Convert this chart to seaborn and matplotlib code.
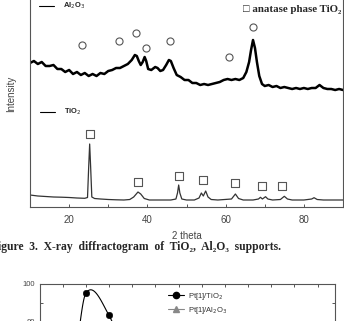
import numpy as np
import matplotlib
matplotlib.use("Agg")
import matplotlib.pyplot as plt
import seaborn as sns

# XRD traces (2 theta in degrees, intensity in arbitrary units)
al2o3_theta = [10, 11, 12, 13, 14, 15, 16, 17, 18, 19, 20, 21, 22, 23, 24, 25, 26, 27, 28, 29,
               30, 31, 32, 33, 34, 35, 36, 36.8, 37.3, 37.8, 38.3, 38.8, 39.3, 39.7, 40.2, 41,
               42, 42.6, 43.3, 44, 44.8, 45.5, 46, 46.7, 47.5, 48.5, 49.5, 50.5, 51.5, 52.5,
               53.5, 54.5, 55.5, 56.5, 57.5, 58.5, 59.5, 60.5, 61.5, 62.5, 63.5, 64.5, 65.3,
               66, 66.5, 67, 67.5, 68, 68.6, 69.3, 70, 71, 72, 73, 74, 75, 76, 77, 78, 79, 80,
               81, 82, 83, 84, 85, 86, 87, 88, 89, 90]
al2o3_int = [144, 146, 143, 145, 141, 141, 142, 138, 138, 135, 137, 133, 135, 132, 134, 131, 133,
             131, 134, 133, 136, 137, 139, 139, 141, 143, 147, 152, 151, 146, 142, 145, 150, 146,
             138, 137, 140, 139, 136, 137, 142, 147, 146, 139, 132, 130, 127, 127, 124, 124,
             122, 123, 122, 123, 124, 125, 127, 128, 127, 128, 127, 129, 135, 145, 157, 167,
             159, 145, 131, 123, 121, 122, 120, 121, 119, 120, 119, 118, 119, 118, 119, 118,
             119, 119, 122, 119, 118, 118, 117, 118, 117]

tio2_theta = [10, 12, 14, 16, 18, 20, 22, 24, 24.7, 25.0, 25.25, 25.5, 25.8, 26.5, 28, 30, 32,
              34, 35.5, 36.5, 37.6, 38.3, 39.2, 40.5, 44, 46, 47.3, 47.7, 48.0, 48.3, 48.8, 50,
              52, 53.2, 53.8, 54.3, 54.9, 55.5, 56.3, 58, 61.5, 62.5, 63.3, 64.5, 67, 68.4,
              68.9, 69.4, 70.2, 70.8, 72, 74, 75.0, 75.8, 77, 80, 82, 82.6, 83.4, 85, 90]
tio2_int = [12, 11, 10.5, 10, 9.8, 9.5, 9, 8.7, 9.5, 40, 63, 40, 10, 8.5, 8, 7.5, 7.2, 7, 7.5,
            10, 15, 13, 8.5, 7, 7, 7, 8, 14, 22, 14, 8, 7, 7, 9, 14, 11, 16, 10, 7.5, 7, 8, 13,
            8.5, 7, 7, 8, 9.7, 8, 10.3, 8, 7, 7.5, 10.7, 8, 7, 7, 8, 9.3, 7.5, 7, 7]

# phase markers
gamma_theta = [23.2, 32.75, 37.2, 39.7, 45.85, 60.95, 67.1]
gamma_y = [162, 166, 174, 159, 166, 150, 180]
anatase_theta = [25.3, 37.6, 48.2, 54.3, 62.3, 69.4, 74.5]
anatase_y = [73, 25, 31, 27, 24, 21, 21]

# second figure (only the top strip is visible)
cat_x = [30, 40, 60, 80]
pt_tio2 = [55, 95, 83, 50]
pt_al2o3 = [20, 40, 55, 60]


def smooth_line(x, y, n=40):
    # cubic Hermite curve through the points (like Origin's spline connector)
    x = np.asarray(x, float)
    y = np.asarray(y, float)
    m = np.empty_like(y)
    m[1:-1] = (y[2:] - y[:-2]) / (x[2:] - x[:-2])
    m[0] = (y[1] - y[0]) / (x[1] - x[0])
    m[-1] = (y[-1] - y[-2]) / (x[-1] - x[-2])
    xs, ys = [], []
    for i in range(len(x) - 1):
        t = np.linspace(0, 1, n)
        h = x[i + 1] - x[i]
        h00 = 2 * t**3 - 3 * t**2 + 1
        h10 = t**3 - 2 * t**2 + t
        h01 = -2 * t**3 + 3 * t**2
        h11 = t**3 - t**2
        xs.append(x[i] + t * h)
        ys.append(h00 * y[i] + h10 * h * m[i] + h01 * y[i + 1] + h11 * h * m[i + 1])
    return np.concatenate(xs), np.concatenate(ys)


sns.set_style("ticks")
plt.rcParams["font.family"] = ["Liberation Sans", "DejaVu Sans"]

fig = plt.figure(figsize=(3.44, 3.21), dpi=100)
W, H = 344, 321

def box(l, t, r, b):
    return [l / W, 1 - b / H, (r - l) / W, (b - t) / H]

ax = fig.add_axes(box(30, -20, 343, 207))
sns.lineplot(x=al2o3_theta, y=al2o3_int, ax=ax, color="black", lw=1.8, sort=False)
sns.lineplot(x=tio2_theta, y=tio2_int, ax=ax, color="#333333", lw=0.9, sort=False)
sns.scatterplot(x=gamma_theta, y=gamma_y, ax=ax, marker="o", s=26, color="white",
                edgecolor="#555555", linewidth=0.8, zorder=3)
sns.scatterplot(x=anatase_theta, y=anatase_y, ax=ax, marker="s", s=36, color="white",
                edgecolor="#555555", linewidth=0.8, zorder=3)
ax.set_xlim(10, 90)
ax.set_ylim(0, 227)
ax.set_xticks([20, 40, 60, 80])
ax.set_xticks([30, 50, 70], minor=True)
ax.set_yticks([])
ax.tick_params(axis="x", which="both", direction="in", length=2.5, width=0.7,
               labelsize=7, labelcolor="#444444", color="#555555", pad=6)
for s in ax.spines.values():
    s.set_linewidth(0.8)
    s.set_color("#555555")
ax.set_xlabel("2 theta", fontsize=7, color="#444444", labelpad=4)
ax.set_ylabel("Intensity", fontsize=7, color="#444444", labelpad=10)

ax.plot([0.028, 0.076], [0.887, 0.887], transform=ax.transAxes, color="black", lw=0.8)
ax.text(0.105, 0.887, "Al$_2$O$_3$", transform=ax.transAxes, fontsize=5.5,
        fontweight="bold", va="center")
ax.plot([0.032, 0.080], [0.42, 0.42], transform=ax.transAxes, color="black", lw=0.8)
ax.text(0.110, 0.42, "TiO$_2$", transform=ax.transAxes, fontsize=5.5,
        fontweight="bold", va="center")
ax.text(0.994, 1.0 - 29 / 227, "\u25a1 anatase phase TiO\u2082", transform=ax.transAxes,
        fontsize=7.8, fontweight="bold", ha="right", va="center",
        family=["Liberation Serif", "DejaVu Sans"])
ax.text(0.994, 1.0 - 16 / 227, "\u25cb \u03b3-phase Al\u2082O\u2083", transform=ax.transAxes,
        fontsize=7.8, fontweight="bold", ha="right", va="center",
        family=["Liberation Serif", "DejaVu Sans"])

fig.text(-9 / W, 1 - 247 / H,
         "Figure  3.  X-ray  diffractogram  of  TiO\u2082,  Al\u2082O\u2083  supports.",
         fontsize=8.4, fontweight="bold", ha="left", va="center",
         family=["Liberation Serif", "DejaVu Serif"])

ax2 = fig.add_axes(box(39.5, 284, 335, 469))
sx, sy = smooth_line(cat_x, pt_tio2)
sns.lineplot(x=sx, y=sy, ax=ax2, color="black", lw=0.8, sort=False)
sns.scatterplot(x=cat_x, y=pt_tio2, ax=ax2, marker="o", s=22, color="black",
                edgecolor="black", zorder=3)
sns.lineplot(x=cat_x, y=pt_al2o3, ax=ax2, color="#888888", lw=0.8, marker="^",
             markersize=4, markeredgecolor="#888888")
ax2.plot([], [], color="black", lw=0.8, marker="o", ms=4.5, label="Pt[1]/TiO$_2$")
ax2.plot([], [], color="#888888", lw=0.8, marker="^", ms=4, label="Pt[1]/Al$_2$O$_3$")
ax2.legend(loc="upper left", bbox_to_anchor=(0.41, 1.0), frameon=False, fontsize=5.5,
           handlelength=2.2, labelspacing=0.4, handletextpad=0.5, labelcolor="#333333")
ax2.set_xlim(0, 255)
ax2.set_ylim(0, 100)
ax2.set_xticks(np.arange(20, 255, 20))
ax2.set_xticklabels([])
ax2.set_yticks([80, 100])
ax2.set_yticks([90], minor=True)
ax2.tick_params(axis="both", which="both", direction="in", length=2.5, width=0.7,
                top=True, right=True, labelsize=5.5, labelcolor="#444444", color="#555555")
for s in ax2.spines.values():
    s.set_linewidth(0.8)
    s.set_color("#555555")

fig.savefig("out.png", dpi=100)
